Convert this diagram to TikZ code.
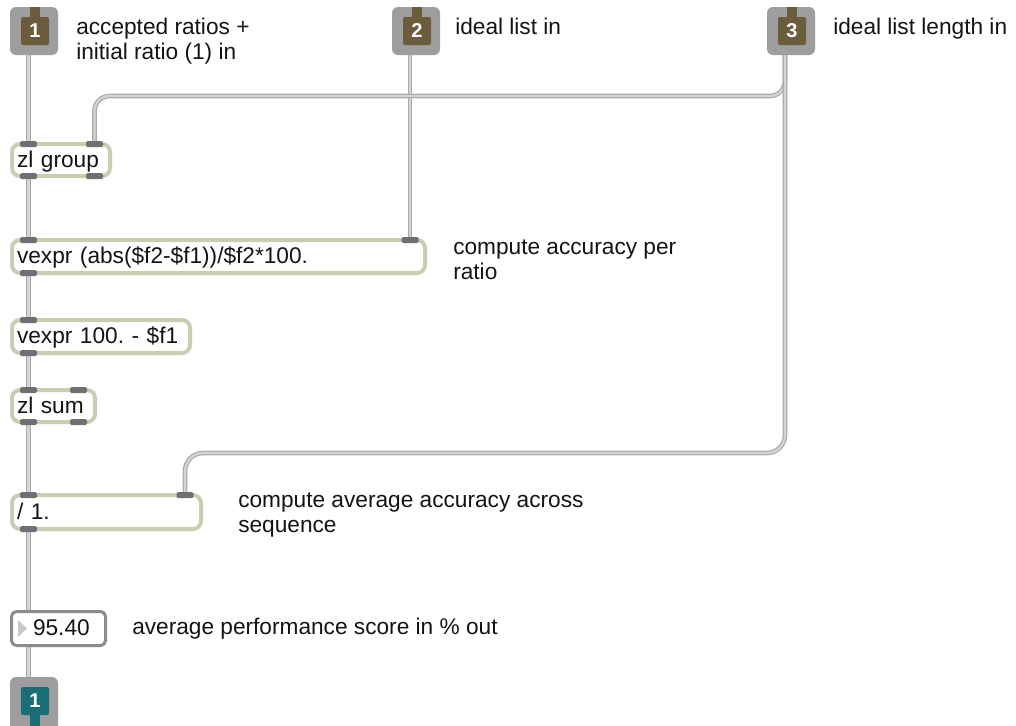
\documentclass[tikz,border=0pt]{standalone}
\usepackage{fontspec}
\setmainfont{Liberation Sans}
\usetikzlibrary{calc}
\frenchspacing

% one screen pixel
\def\px{0.75pt}
\newcommand\objfont{\fontsize{17pt}{18.75pt}\selectfont}
\newcommand\numfont{\fontsize{15pt}{15pt}\selectfont\bfseries}

\definecolor{boxgreen}{RGB}{200,207,176}
\definecolor{portgray}{RGB}{112,112,112}
\definecolor{cordedge}{RGB}{170,170,170}
\definecolor{cordcore}{RGB}{212,212,212}
\definecolor{iogray}{RGB}{158,158,158}
\definecolor{inbrown}{RGB}{108,92,62}
\definecolor{outteal}{RGB}{24,110,116}
\definecolor{numgray}{RGB}{140,140,140}
\definecolor{trigray}{RGB}{200,200,200}
\definecolor{ink}{RGB}{20,20,20}

\pgfdeclarelayer{paper}
\pgfdeclarelayer{cords}
\pgfsetlayers{paper,cords,main}

\tikzset{
  obj/.style={draw=boxgreen, line width=4*\px, fill=white, rounded corners=8*\px,
    outer sep=0pt, anchor=north west, inner xsep=5*\px, inner ysep=0pt,
    align=left, text height=13pt, text depth=2pt, font=\objfont, text=ink},
  numbox/.style={draw=numgray, line width=3*\px, fill=white, rounded corners=5*\px,
    outer sep=0pt, anchor=north west, inner xsep=5*\px, inner ysep=0pt,
    align=left, text height=13pt, text depth=2pt, font=\objfont, text=ink},
  port/.style={fill=portgray, rounded corners=1.5*\px, minimum width=17*\px,
    minimum height=6*\px, inner sep=0pt, outer sep=0pt},
  cord/.style={draw=cordedge, line width=1.2*\px, double=cordcore, double distance=2.2*\px},
  ioframe/.style={fill=iogray, rounded corners=6*\px, minimum width=48*\px,
    minimum height=48*\px, inner sep=0pt, outer sep=0pt, anchor=north west},
  iocore/.style={rounded corners=2*\px, minimum width=28*\px, minimum height=28*\px,
    inner sep=0pt, outer sep=0pt, text=white, font=\numfont},
  lbl/.style={font=\objfont, text=ink, anchor=base west, inner sep=0pt, align=left},
}

\begin{document}
\begin{tikzpicture}[x=0.75pt,y=-0.75pt]
\begin{pgfonlayer}{paper}
  \fill[white] (0,0) rectangle (1016,725);
\end{pgfonlayer}
\useasboundingbox (0,0) rectangle (1016,725);
\clip (0,0) rectangle (1016,725);

% inlets
\node[ioframe] (in1) at (10,7) {};
\node[iocore, fill=inbrown] (in1-n) at (35,31) {1};
\fill[inbrown] ([xshift=-5*\px]in1-n.north) rectangle ([xshift=5*\px]in1-n.north |- in1.north);

\node[ioframe] (in2) at (392,7) {};
\node[iocore, fill=inbrown] (in2-n) at (417,31) {2};
\fill[inbrown] ([xshift=-5*\px]in2-n.north) rectangle ([xshift=5*\px]in2-n.north |- in2.north);

\node[ioframe] (in3) at (767,7) {};
\node[iocore, fill=inbrown] (in3-n) at (792,31) {3};
\fill[inbrown] ([xshift=-5*\px]in3-n.north) rectangle ([xshift=5*\px]in3-n.north |- in3.north);

% outlet
\node[ioframe, minimum height=60*\px] (out1) at (10,677) {};
\node[iocore, fill=outteal] (out1-n) at (35,701) {1};
\fill[outteal] ([xshift=-5*\px]out1-n.south) rectangle ([xshift=5*\px,yshift=-20*\px]out1-n.south);

% objects
\node[obj, text width=66pt, minimum height=32*\px] (zg) at (12,144) {zl group};
\node[port] (zg-i0) at (28.5,144) {};
\node[port] (zg-i1) at (94.5,144) {};
\node[port] (zg-o0) at (28.5,176) {};
\node[port] (zg-o1) at (94.5,176) {};

\node[obj, text width=302.25pt, minimum height=33*\px] (va) at (12,240) {vexpr (abs(\$f2-\$f1))/\$f2*100.};
\node[port] (va-i0) at (28.5,240) {};
\node[port] (va-i1) at (410,240) {};
\node[port] (va-o0) at (28.5,273) {};

\node[obj, text width=126pt, minimum height=33*\px] (vb) at (12,320) {vexpr 100. - \$f1};
\node[port] (vb-i0) at (28.5,320) {};
\node[port] (vb-o0) at (28.5,353) {};

\node[obj, text width=54.75pt, minimum height=32*\px] (zs) at (12,390) {zl sum};
\node[port] (zs-i0) at (28.5,390) {};
\node[port] (zs-i1) at (78.5,390) {};
\node[port] (zs-o0) at (28.5,422) {};
\node[port] (zs-o1) at (78.5,422) {};

\node[obj, text width=134.25pt, minimum height=34*\px] (dv) at (12,495) {/ 1.};
\node[port] (dv-i0) at (28.5,495) {};
\node[port] (dv-i1) at (185,495) {};
\node[port] (dv-o0) at (28.5,529) {};

% number box
\node[numbox, text width=63pt, minimum height=34*\px] (nb) at (11.5,611.5) {\hspace*{12.4pt}95.40};
\fill[trigray] ([xshift=6.5*\px,yshift=8.5*\px]nb.west) -- ([xshift=15.5*\px]nb.west) -- ([xshift=6.5*\px,yshift=-8.5*\px]nb.west) -- cycle;

% comments
\node[lbl] (c1) at (76,59.5) {accepted ratios +\\initial ratio (1) in};
\node[lbl] (c2) at (455,34.5) {ideal list in};
\node[lbl] (c3) at (833,34.5) {ideal list length in};
\node[lbl] (c4) at (453,279) {compute accuracy per\\ratio};
\node[lbl] (c5) at (238,532.5) {compute average accuracy across\\sequence};
\node[lbl] (c6) at (132,634.5) {average performance score in \% out};

% patch cords
\begin{pgfonlayer}{cords}
  \draw[cord] ([xshift=18.5*\px]in1.south west) -- (zg-i0.north);
  \draw[cord] ([xshift=18*\px]in2.south west) -- (va-i1.north);
  \draw[cord, rounded corners=15*\px] ([xshift=18*\px]in3.south west)
      |- ([yshift=45*\px]zg-i1.north) -- (zg-i1.north);
  \draw[cord, rounded corners=18*\px] ([xshift=18*\px]in3.south west)
      |- ([yshift=39*\px]dv-i1.north) -- (dv-i1.north);
  \draw[cord] (zg-o0.south) -- (va-i0.north);
  \draw[cord] (va-o0.south) -- (vb-i0.north);
  \draw[cord] (vb-o0.south) -- (zs-i0.north);
  \draw[cord] (zs-o0.south) -- (dv-i0.north);
  \draw[cord] (dv-o0.south) -- ([xshift=17*\px]nb.north west);
  \draw[cord] ([xshift=17*\px]nb.south west) -- ([xshift=18.5*\px]out1.north west);
\end{pgfonlayer}
\end{tikzpicture}
\end{document}
